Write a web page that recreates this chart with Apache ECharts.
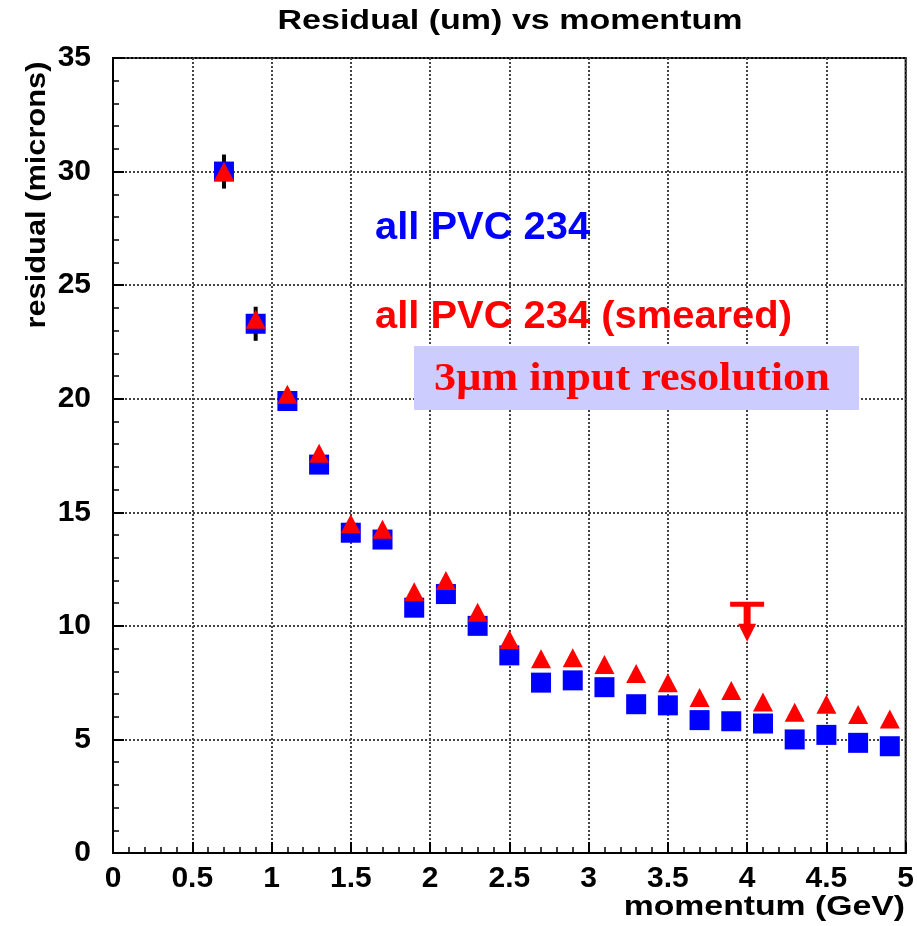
<!DOCTYPE html>
<html>
<head>
<meta charset="utf-8">
<script src="https://cdn.jsdelivr.net/npm/echarts@6/dist/echarts.min.js"></script>
<style>
html,body{margin:0;padding:0;background:#fff;}
#chart{width:917px;height:926px;}
</style>
</head>
<body>
<div id="chart"></div>
<script>
// ---- data ----
const momentum = [0.7,0.9,1.1,1.3,1.5,1.7,1.9,2.1,2.3,2.5,2.7,2.9,3.1,3.3,3.5,3.7,3.9,4.1,4.3,4.5,4.7,4.9];
const residualAll = [30.0,23.3,19.9,17.1,14.1,13.8,10.8,11.4,10.0,8.7,7.5,7.6,7.3,6.55,6.5,5.85,5.8,5.7,5.0,5.2,4.85,4.7];
const residualAllErr = [0.75,0.75,0.3,0.3,0.25,0.25,0.25,0.25,0.2,0.2,0.2,0.2,0.2,0.2,0.2,0.2,0.2,0.2,0.2,0.2,0.2,0.2];
const residualSmeared = [30.0,23.5,20.2,17.6,14.5,14.25,11.5,12.0,10.6,9.4,8.55,8.6,8.3,7.9,7.5,6.85,7.15,6.65,6.2,6.55,6.1,5.9];
// upper-limit arrow: [x, bar level, arrow tip]
const limitArrow = [[4.0, 10.95, 9.3]];
const xTicks = {min: 0, max: 5, interval: 0.5};
const yTicks = {min: 0, max: 35, interval: 5};
const titleText = 'Residual (um) vs momentum';
const xName = 'momentum (GeV)';
const yName = 'residual (microns)';
const label1 = 'all PVC 234';
const label2 = 'all PVC 234 (smeared)';
const noteText = '3\u03BCm input resolution';

const SANS = '"Liberation Sans", Arial, Helvetica, sans-serif';
const SERIF = '"Liberation Serif", "Times New Roman", serif';

const chart = echarts.init(document.getElementById('chart'), null, {renderer: 'canvas'});

const gridLine = {show: true, lineStyle: {color: '#444', width: 2, type: [2, 2]}};
const axisCommon = {
  axisLine: {show: true, onZero: false, lineStyle: {color: '#000', width: 2}},
  axisTick: {show: true, inside: true, length: 11, lineStyle: {color: '#000', width: 2}},
  minorTick: {show: true, splitNumber: 5, length: 6, lineStyle: {color: '#000', width: 1.5}},
  splitLine: gridLine,
  axisLabel: {color: '#000', fontSize: 30, fontWeight: 'bold', fontFamily: SANS}
};

const option = {
  animation: false,
  backgroundColor: '#fff',
  grid: {left: 113, right: 11, top: 58, bottom: 73, show: true, borderColor: '#000', borderWidth: 2, backgroundColor: 'transparent'},
  xAxis: Object.assign({type: 'value', min: xTicks.min, max: xTicks.max, interval: xTicks.interval}, axisCommon, {
    axisLabel: Object.assign({}, axisCommon.axisLabel, {margin: 11, showMinLabel: true, showMaxLabel: true})
  }),
  yAxis: Object.assign({type: 'value', min: yTicks.min, max: yTicks.max, interval: yTicks.interval}, axisCommon, {
    axisLabel: Object.assign({}, axisCommon.axisLabel, {margin: 22, showMinLabel: true, showMaxLabel: true})
  }),
  series: [
    {
      type: 'custom',
      name: 'err',
      z: 1,
      data: momentum.map((x, i) => [x, residualAll[i], residualAllErr[i]]),
      renderItem: function (params, api) {
        const x = api.value(0), y = api.value(1), e = api.value(2);
        const lo = api.coord([x, y - e]);
        const hi = api.coord([x, y + e]);
        return {type: 'line', shape: {x1: lo[0], y1: lo[1], x2: hi[0], y2: hi[1]}, style: {stroke: '#000', lineWidth: 4}};
      }
    },
    {
      type: 'scatter',
      name: label1,
      z: 2,
      symbol: 'rect',
      symbolSize: 20,
      itemStyle: {color: '#0000ff', opacity: 1},
      data: momentum.map((x, i) => [x, residualAll[i]])
    },
    {
      type: 'scatter',
      name: label2,
      z: 3,
      symbol: 'triangle',
      symbolSize: [20, 19],
      itemStyle: {color: '#ff0000', opacity: 1},
      data: momentum.map((x, i) => [x, residualSmeared[i]])
    },
    {
      type: 'custom',
      name: 'limit',
      z: 4,
      data: limitArrow,
      renderItem: function (params, api) {
        const x = api.value(0);
        const top = api.coord([x, api.value(1)]);
        const tip = api.coord([x, api.value(2)]);
        const headH = 18, headW = 9;
        return {
          type: 'group',
          children: [
            {type: 'rect', shape: {x: top[0] - 17, y: top[1] - 2.5, width: 34, height: 5}, style: {fill: '#ff0000'}},
            {type: 'rect', shape: {x: top[0] - 3.5, y: top[1], width: 7, height: tip[1] - headH - top[1] + 1}, style: {fill: '#ff0000'}},
            {type: 'polygon', shape: {points: [[tip[0] - headW, tip[1] - headH], [tip[0] + headW, tip[1] - headH], [tip[0], tip[1]]]}, style: {fill: '#ff0000'}}
          ]
        };
      }
    }
  ],
  graphic: [
    {type: 'text', x: 510, y: 22, scaleX: 1.26, z: 100,
      style: {text: titleText, font: 'bold 27px ' + SANS, fill: '#000', align: 'center', verticalAlign: 'middle'}},
    {type: 'text', x: 37, y: 195, rotation: Math.PI / 2, scaleX: 1.1, z: 100,
      style: {text: yName, font: 'bold 28px ' + SANS, fill: '#000', align: 'center', verticalAlign: 'middle'}},
    {type: 'text', x: 905, y: 908, scaleX: 1.25, z: 100,
      style: {text: xName, font: 'bold 27px ' + SANS, fill: '#000', align: 'right', verticalAlign: 'middle'}},
    {type: 'text', x: 375, y: 229, scaleX: 1.05, z: 100,
      style: {text: label1, font: 'bold 38px ' + SANS, fill: '#0000ff', align: 'left', verticalAlign: 'middle'}},
    {type: 'text', x: 375, y: 318, scaleX: 1.05, z: 100,
      style: {text: label2, font: 'bold 38px ' + SANS, fill: '#ff0000', align: 'left', verticalAlign: 'middle'}},
    {type: 'rect', z: 99, shape: {x: 414, y: 346, width: 445, height: 64}, style: {fill: '#ccccff'}},
    {type: 'text', x: 434, y: 379, scaleX: 1.08, z: 100,
      style: {text: noteText, font: 'bold 41px ' + SERIF, fill: '#ff0000', align: 'left', verticalAlign: 'middle'}}
  ]
};
chart.setOption(option);
</script>
</body>
</html>
